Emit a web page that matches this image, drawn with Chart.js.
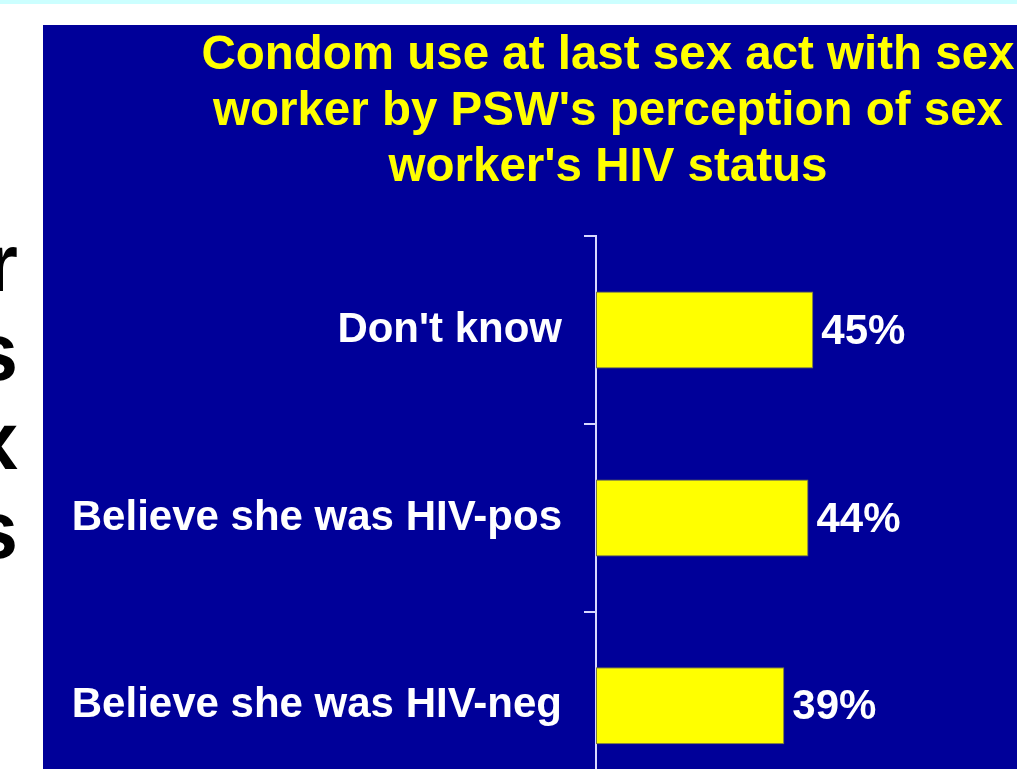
<!DOCTYPE html>
<html>
<head>
<meta charset="utf-8">
<script src="https://cdn.jsdelivr.net/npm/chart.js@4"></script>
<style>
  html, body {
    margin: 0;
    padding: 0;
    width: 1017px;
    height: 769px;
    overflow: hidden;
    background: #ffffff;
    font-family: Arial, "Liberation Sans", sans-serif;
  }
  #topStrip {
    position: absolute;
    left: 0;
    top: 0;
    width: 1017px;
    height: 4px;
    background: #ccffff;
  }
  #sideText {
    position: absolute;
    left: -200px;
    top: 218px;
    width: 218px;
    text-align: right;
    font: bold 82px Arial, "Liberation Sans", sans-serif;
    line-height: 89px;
    color: #000000;
  }
  #theChart {
    position: absolute;
    left: 43px;
    top: 25px;
    background: #000099;
  }
</style>
</head>
<body>
<div id="topStrip"></div>
<div id="sideText">r<br>s<br>x<br>s</div>
<canvas id="theChart" width="1130" height="822"></canvas>
<script>
const titleLines = [
  "Condom use at last sex act with sex",
  "worker by PSW's perception of sex",
  "worker's HIV status",
];
const categories = ["Don't know", "Believe she was HIV-pos", "Believe she was HIV-neg"];
const condomUse = [45, 44, 39];

const COLORS = {
  panel: "#000099",
  bar: "#ffff00",
  barEdge: "#7a7a40",
  axis: "#d8d8ff",
  label: "#ffffff",
};

// percentage written just past the end of each bar
const valueLabels = {
  id: "valueLabels",
  afterDatasetsDraw(chart) {
    const ctx = chart.ctx;
    const meta = chart.getDatasetMeta(0);
    ctx.save();
    ctx.fillStyle = COLORS.label;
    ctx.font = "bold 42px Arial, 'Liberation Sans', sans-serif";
    ctx.textAlign = "left";
    ctx.textBaseline = "middle";
    meta.data.forEach((bar, i) => {
      ctx.fillText(condomUse[i] + "%", bar.x + 8, bar.y + 2);
    });
    ctx.restore();
  },
};

const data = {
  labels: categories,
  datasets: [
    {
      label: "Condom use",
      data: condomUse,
      backgroundColor: COLORS.bar,
      borderColor: COLORS.barEdge,
      borderWidth: 1,
      borderSkipped: false,
      categoryPercentage: 1,
      barPercentage: 0.41,
    },
  ],
};

const config = {
  type: "bar",
  data: data,
  options: {
    indexAxis: "y",
    responsive: false,
    animation: false,
    devicePixelRatio: 1,
    layout: {
      padding: 0,
    },
    plugins: {
      legend: { display: false },
      tooltip: { enabled: false },
      title: {
        display: true,
        text: titleLines,
        color: COLORS.bar,
        font: { family: "Arial, 'Liberation Sans', sans-serif", size: 47.5, weight: "bold", lineHeight: 1.18 },
        padding: { top: 3, bottom: 40 },
      },
    },
    scales: {
      x: {
        display: false,
        min: 0,
        // panel runs on past the right edge of the picture
        max: 119.5,
      },
      y: {
        position: "left",
        afterFit(scale) {
          scale.width = 553;
        },
        grid: {
          display: true,
          drawOnChartArea: false,
          drawTicks: true,
          tickLength: 12,
          color: COLORS.axis,
          lineWidth: 2,
        },
        border: {
          display: true,
          color: COLORS.axis,
          width: 2,
        },
        ticks: {
          color: COLORS.label,
          padding: 22,
          font: { family: "Arial, 'Liberation Sans', sans-serif", size: 42, weight: "bold" },
        },
      },
    },
  },
  plugins: [valueLabels],
};

const theChart = new Chart(document.getElementById("theChart"), config);
</script>
</body>
</html>
